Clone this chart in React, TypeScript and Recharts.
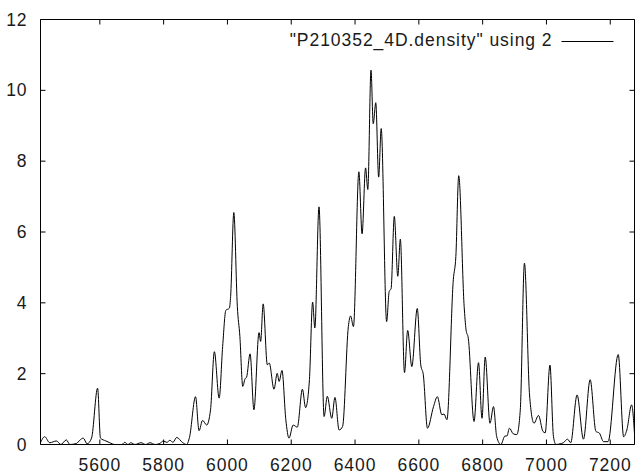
import { LineChart, Line, XAxis, YAxis, ReferenceArea } from 'recharts';

// x positions (row index) and density values
const positions = [
  5414, 5427, 5443, 5464, 5478, 5495, 5506, 5527, 5537, 5548, 5560, 5574, 5593, 5602, 5619, 5631,
  5647, 5669, 5678, 5688, 5697, 5710, 5729, 5744, 5757, 5773, 5788, 5799, 5810, 5820, 5829, 5841,
  5860, 5872, 5881, 5900, 5911, 5922, 5935, 5947, 5959, 5974, 5985, 5995, 6006, 6010, 6020, 6031,
  6039, 6048, 6055, 6060, 6071, 6083, 6099, 6104, 6112, 6125, 6131, 6146, 6156, 6162, 6171, 6183,
  6193, 6206, 6219, 6235, 6245, 6257, 6267, 6274, 6287, 6303, 6313, 6327, 6337, 6350, 6361, 6379,
  6386, 6395, 6412, 6422, 6433, 6440, 6450, 6457, 6465, 6474, 6482, 6499, 6507, 6513, 6523, 6534,
  6542, 6555, 6565, 6578, 6595, 6606, 6614, 6627, 6646, 6658, 6672, 6679, 6688, 6708, 6716, 6725,
  6742, 6748, 6755, 6773, 6787, 6798, 6808, 6823, 6834, 6844, 6857, 6870, 6876, 6884, 6896, 6907,
  6918, 6931, 6947, 6961, 6975, 6989, 6996, 7011, 7022, 7030, 7043, 7053, 7066, 7076, 7096, 7116,
  7137, 7155, 7166, 7179, 7193, 7225, 7242, 7252, 7267, 7276,
];

const density = [
  0.05, 0.22, 0.05, 0.1, 0.0, 0.13, 0.0, 0.03, 0.12, 0.18, 0.02, 0.18, 1.59, 0.18, 0.1, 0.05,
  0.0, 0.0, 0.06, 0.0, 0.05, 0.0, 0.05, 0.0, 0.05, 0.0, 0.03, 0.1, 0.06, 0.12, 0.06, 0.2,
  0.05, 0.0, 0.2, 1.35, 0.39, 0.68, 0.55, 0.98, 2.62, 1.31, 2.77, 3.79, 3.85, 4.18, 6.55, 3.9,
  3.05, 1.64, 1.85, 1.9, 2.56, 0.98, 3.16, 2.91, 3.97, 2.25, 2.3, 1.56, 2.01, 1.78, 2.09, 0.7,
  0.18, 0.55, 0.49, 1.56, 1.04, 1.83, 4.02, 3.29, 6.71, 0.79, 1.36, 0.74, 1.33, 0.41, 0.51, 3.33,
  3.63, 3.33, 7.7, 5.95, 7.81, 7.2, 10.57, 9.06, 9.65, 7.55, 8.92, 3.47, 4.32, 4.4, 6.44, 4.75,
  5.8, 2.03, 3.22, 2.2, 3.84, 2.25, 1.97, 0.46, 1.07, 1.35, 0.84, 0.86, 0.7, 4.65, 5.31, 7.59,
  3.9, 3.24, 3.0, 0.65, 2.31, 0.74, 2.47, 0.6, 1.07, 0.22, 0.0, 0.24, 0.24, 0.46, 0.3, 0.28,
  0.98, 5.12, 1.4, 0.6, 0.82, 0.37, 0.33, 2.24, 0.22, 0.0, 0.02, 0.05, 0.15, 0.05, 1.4, 0.15,
  1.83, 0.37, 0.32, 0.08, 0.08, 2.54, 0.22, 0.41, 1.12, 0.3,
];

const xTicks = [5600, 5800, 6000, 6200, 6400, 6600, 6800, 7000, 7200];
const yTicks = [0, 2, 4, 6, 8, 10, 12];
const seriesName = '"P210352_4D.density" using 2';

const data = positions.map((x, i) => ({ x, y: density[i] }));

const W = 635;
const H = 474;
const PLOT_TOP = 19.5;
const PLOT_LEFT = 40.5;
const PLOT_RIGHT = 634.5;
const TICK_LEN = 5;
const FONT = '"Liberation Sans", Arial, sans-serif';
const FONT_SIZE = 17.5;
const LETTER_SP = 0.95;
const TEXT_FILL = '#1a1a1a';

const XTick = (props: any) => {
  const { x, y, payload } = props;
  const axisY = y - 10;
  return (
    <g>
      <line x1={x} x2={x} y1={axisY} y2={axisY - TICK_LEN} stroke="#000" />
      <line x1={x} x2={x} y1={PLOT_TOP} y2={PLOT_TOP + TICK_LEN} stroke="#000" />
      <text x={x} y={axisY + 26} textAnchor="middle" fill={TEXT_FILL} fontFamily={FONT} fontSize={FONT_SIZE} letterSpacing={LETTER_SP}>
        {payload.value}
      </text>
    </g>
  );
};

const YTick = (props: any) => {
  const { x, y, payload } = props;
  const axisX = x + 10;
  return (
    <g>
      <line x1={axisX} x2={axisX + TICK_LEN} y1={y} y2={y} stroke="#000" />
      <line x1={PLOT_RIGHT} x2={PLOT_RIGHT - TICK_LEN} y1={y} y2={y} stroke="#000" />
      <text x={axisX - 13} y={y + 6} textAnchor="end" fill={TEXT_FILL} fontFamily={FONT} fontSize={FONT_SIZE} letterSpacing={LETTER_SP}>
        {payload.value}
      </text>
    </g>
  );
};

const KeyEntry = () => (
  <g>
    <text x={552.5} y={45.5} textAnchor="end" fill={TEXT_FILL} fontFamily={FONT} fontSize={FONT_SIZE} letterSpacing={LETTER_SP}>
      {seriesName}
    </text>
    <line x1={561.5} x2={613.5} y1={41.5} y2={41.5} stroke="#000" strokeWidth={1} />
  </g>
);

export default function App() {
  return (
    <div style={{ position: 'absolute', left: 0, top: 0, background: '#fff' }}>
      <LineChart width={W} height={H} data={data} margin={{ top: PLOT_TOP, right: W - PLOT_RIGHT, bottom: 0, left: 0 }}>
        <XAxis
          dataKey="x"
          type="number"
          domain={[5414, 7276]}
          ticks={xTicks}
          tickLine={false}
          tickSize={0}
          tickMargin={10}
          height={29.5}
          allowDataOverflow
          axisLine={false}
          tick={<XTick />}
        />
        <YAxis
          type="number"
          domain={[0, 12]}
          ticks={yTicks}
          tickLine={false}
          tickSize={0}
          tickMargin={10}
          width={PLOT_LEFT}
          axisLine={false}
          tick={<YTick />}
        />
        <ReferenceArea x1={5414} x2={7276} y1={0} y2={12} fill="none" stroke="#000" strokeWidth={1} ifOverflow="visible" />
        <KeyEntry />
        <Line
          type="monotone"
          dataKey="y"
          stroke="#000"
          strokeWidth={1}
          dot={false}
          isAnimationActive={false}
        />
      </LineChart>
    </div>
  );
}
